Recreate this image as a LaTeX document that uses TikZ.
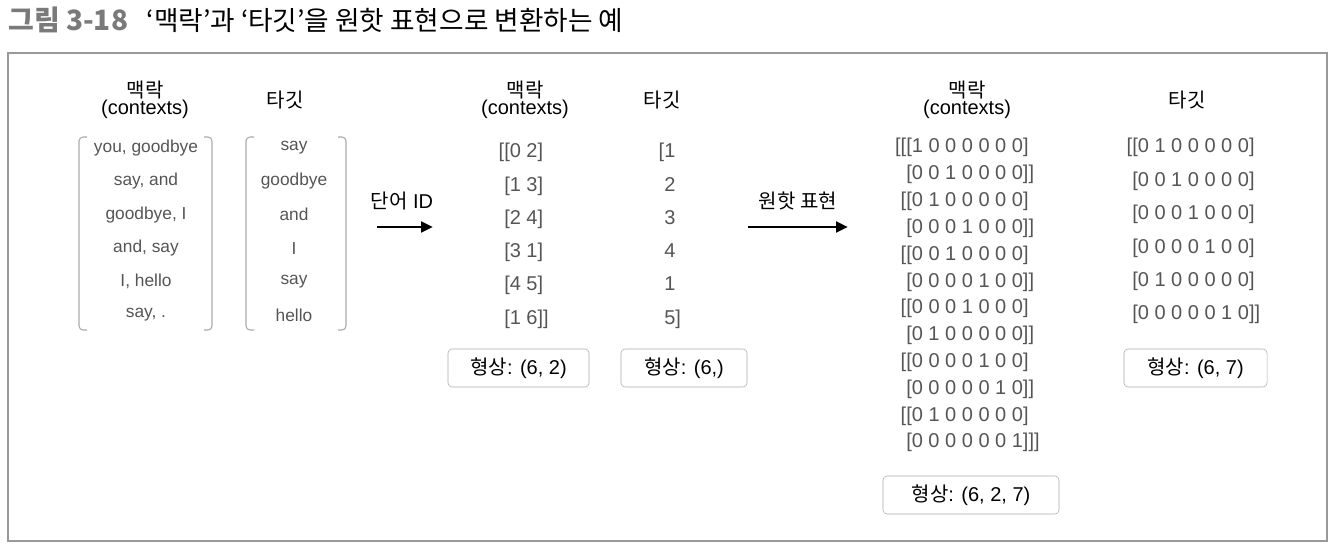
\documentclass[tikz,border=0pt]{standalone}
\usepackage{fontspec}
\setmainfont{Liberation Sans}
\newfontfamily\kr{Noto Sans CJK KR}
\usetikzlibrary{arrows.meta,positioning}
\definecolor{txtgray}{HTML}{555555}
\definecolor{titlegray}{HTML}{7A7A7A}
\definecolor{framegray}{HTML}{999999}
\definecolor{boxgray}{HTML}{ABABAB}
\tikzset{
    % column headers
    head/.style={
           align=center,
           font=\fontsize{15}{12}\selectfont,
           },
    % words in the bracket boxes
    item/.style={
           text=txtgray,
           font=\fontsize{13}{15}\selectfont,
           },
    % rows of numbers
    num/.style={
           text=txtgray,
           anchor=base west,
           inner sep=0pt,
           font=\fontsize{15}{18}\selectfont,
           },
    shapebox/.style={
           draw=boxgray,
           rounded corners=3pt,
           inner sep=0pt,
           minimum height=28.5pt,
           font=\fontsize{15}{18}\selectfont,
           },
    bracket/.style={
           boxgray,
           line width=0.8pt,
           rounded corners=3pt,
           },
    pil/.style={
           -{Triangle[length=9pt,width=8pt]},
           line width=2.2pt,
           },
}

\begin{document}
\begin{tikzpicture}[x=0.75pt,y=-0.75pt]
  \useasboundingbox (0,0) rectangle (1338,552);
  % title
  \node[anchor=west, inner sep=0pt, text=titlegray, font=\kr\bfseries\fontsize{21}{24}\selectfont] (fig) at (8,20) {그림 3-18};
  \node[right=13.5pt of fig, inner sep=0pt, font=\kr\fontsize{20}{24}\selectfont] (title) {‘맥락’과 ‘타깃’을 원핫 표현으로 변환하는 예};
  \draw[framegray, line width=1.1pt] (8,53) rectangle (1327,541);

  % words
  \node[head] (ctx1) at (145,100) {{\kr 맥락}\\(contexts)};
  \node[head] (tgt1) at (285,100) {\kr 타깃};
  \draw[bracket] (87,137) -| (79,330) -- (87,330);
  \draw[bracket] (204,137) -| (212,330) -- (204,330);
  \draw[bracket] (254,137) -| (246,330) -- (254,330);
  \draw[bracket] (338,137) -| (346,330) -- (338,330);
  \foreach \w [count=\i from 0] in {{you, goodbye},{say, and},{goodbye, I},{and, say},{I, hello},{say, .}}
    \node[item] (c\i) at (146,{148+33.4*\i}) {\w};
  \foreach \w [count=\i from 0] in {say,goodbye,and,I,say,hello}
    \node[item] (t\i) at (294,{148+33.4*\i}) {\w};

  % word IDs
  \coordinate (ids) at (377,227);
  \coordinate (ide) at (433,227);
  \draw[pil] (ids) -- (ide);
  \node[head] (idlabel) at (402,201) {{\kr 단어} ID};
  \node[head] (ctx2) at (525,100) {{\kr 맥락}\\(contexts)};
  \node[head] (tgt2) at (662,100) {\kr 타깃};
  \foreach \w [count=\i from 0] in {{\llap{[}[0 2]},{[1 3]},{[2 4]},{[3 1]},{[4 5]},{[1 6]]}}
    \node[num] (cid\i) at (504,{158+33.2*\i}) {\w};
  \foreach \w [count=\i from 0] in {{\llap{[}1},2,3,4,1,{5]}}
    \node[num] (tid\i) at (664,{158+33.2*\i}) {\w};
  \node[shapebox, minimum width=105.75pt] (shape1) at (518.5,368) {{\kr 형상}: (6, 2)};
  \node[shapebox, minimum width=94.5pt] (shape2) at (684,368) {{\kr 형상}: (6,)};

  % one-hot
  \coordinate (ohs) at (748,227);
  \coordinate (ohe) at (848,227);
  \draw[pil] (ohs) -- (ohe);
  \node[head] (ohlabel) at (798,201) {\kr 원핫 표현};
  \node[head] (ctx3) at (967,100) {{\kr 맥락}\\(contexts)};
  \node[head] (tgt3) at (1187,100) {\kr 타깃};
  \foreach \w [count=\i from 0] in {{\llap{[[}[1 0 0 0 0 0 0]},{[0 0 1 0 0 0 0]]},
      {\llap{[}[0 1 0 0 0 0 0]},{[0 0 0 1 0 0 0]]},
      {\llap{[}[0 0 1 0 0 0 0]},{[0 0 0 0 1 0 0]]},
      {\llap{[}[0 0 0 1 0 0 0]},{[0 1 0 0 0 0 0]]},
      {\llap{[}[0 0 0 0 1 0 0]},{[0 0 0 0 0 1 0]]},
      {\llap{[}[0 1 0 0 0 0 0]},{[0 0 0 0 0 0 1]]]}}
    \node[num] (coh\i) at (906,{153+26.8*\i}) {\w};
  \foreach \w [count=\i from 0] in {{\llap{[}[0 1 0 0 0 0 0]},{[0 0 1 0 0 0 0]},{[0 0 0 1 0 0 0]},
      {[0 0 0 0 1 0 0]},{[0 1 0 0 0 0 0]},{[0 0 0 0 0 1 0]]}}
    \node[num] (toh\i) at (1132,{153+33.4*\i}) {\w};
  \node[shapebox, minimum width=132pt] (shape3) at (971,495) {{\kr 형상}: (6, 2, 7)};
  \node[shapebox, minimum width=107.25pt] (shape4) at (1195.5,368) {{\kr 형상}: (6, 7)};
\end{tikzpicture}
\end{document}
